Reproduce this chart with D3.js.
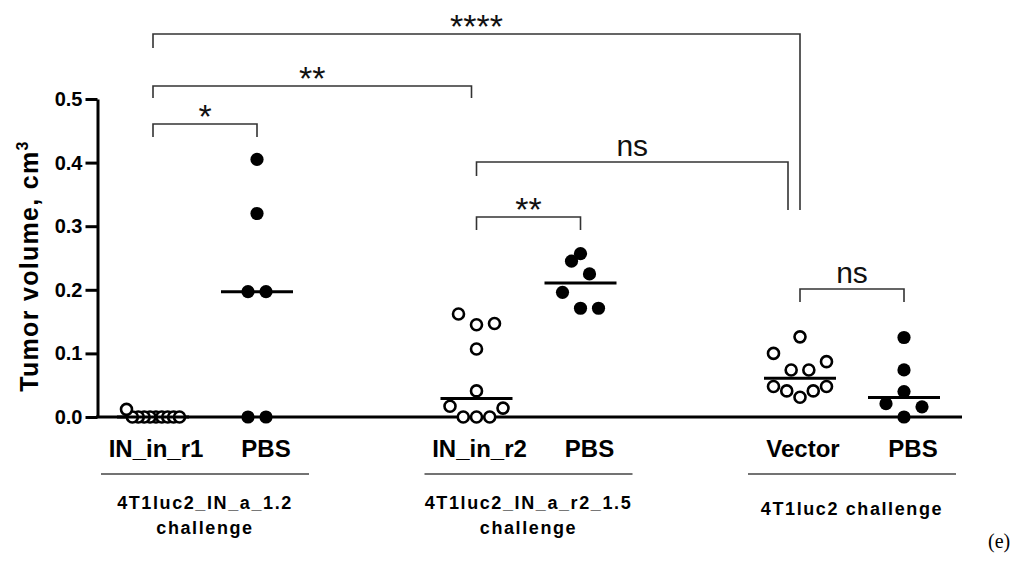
<!DOCTYPE html>
<html>
<head>
<meta charset="utf-8">
<script src="https://cdn.jsdelivr.net/npm/d3@7"></script>
<style>
  body { margin: 0; background: #fff; }
  svg { display: block; font-family: 'Liberation Sans', Arial, sans-serif; }
</style>
</head>
<body>
<div class="chart"></div>
<script>
// group / category names
const groupLabels = [
  ['4T1luc2_IN_a_1.2', 'challenge'],
  ['4T1luc2_IN_a_r2_1.5', 'challenge'],
  ['4T1luc2 challenge'],
];
const categoryLabels = [
  ['IN_in_r1', 'PBS'],
  ['IN_in_r2', 'PBS'],
  ['Vector', 'PBS'],
];

// tumor volumes, cm3
const inR1Values = [0, 0, 0, 0, 0, 0, 0, 0, 0, 0.012];
const pbs1Values = [0.405, 0.32, 0.197, 0.197, 0, 0];
const inR2Values = [0.162, 0.147, 0.145, 0.107, 0.041, 0.017, 0.014, 0, 0, 0];
const pbs2Values = [0.257, 0.245, 0.225, 0.196, 0.171, 0.171];
const vectorValues = [0.126, 0.1, 0.087, 0.074, 0.074, 0.048, 0.048, 0.041, 0.041, 0.031];
const pbs3Values = [0.125, 0.074, 0.04, 0.021, 0.016, 0];

const yTicks = [0, 0.1, 0.2, 0.3, 0.4, 0.5];

// significance comparisons: [group, category] pairs
const comparisons = [
  { a: [0, 0], b: [0, 1], label: '*' },
  { a: [0, 0], b: [1, 0], label: '**' },
  { a: [0, 0], b: [2, 0], label: '****' },
  { a: [1, 0], b: [2, 0], label: 'ns' },
  { a: [1, 0], b: [1, 1], label: '**' },
  { a: [2, 0], b: [2, 1], label: 'ns' },
];

const series = [
  { g: 0, k: 0, values: inR1Values, filled: false },
  { g: 0, k: 1, values: pbs1Values, filled: true },
  { g: 1, k: 0, values: inR2Values, filled: false },
  { g: 1, k: 1, values: pbs2Values, filled: true },
  { g: 2, k: 0, values: vectorValues, filled: false },
  { g: 2, k: 1, values: pbs3Values, filled: true },
];

// bracket layout (pixels): line height, leg lengths, end shift
const bracketLayout = [
  { y: 124, legA: 13, legB: 13, shiftB: 0 },
  { y: 86, legA: 12, legB: 12, shiftB: -5 },
  { y: 34, legA: 14, legB: 176, shiftB: 0 },
  { y: 162, legA: 14, legB: 48, shiftB: -12 },
  { y: 217, legA: 13, legB: 13, shiftB: 0 },
  { y: 289, legA: 13, legB: 13, shiftB: 0 },
];

const width = 1013, height = 568;

const svg = d3
  .select('.chart')
  .append('svg')
  .attr('width', width)
  .attr('height', height);

const y = d3.scaleLinear().domain([0, 0.5]).range([417, 99]);
const groupX = d3.scalePoint().domain([0, 1, 2]).range([205, 852]);
const innerX = d3.scalePoint().domain([0, 1]).range([-52, 52]);
const cx = (g, k) => groupX(g) + innerX(k);

// prism-like column scatter: rows by value, spread sideways
function swarmOffsets(values) {
  const order = values.map((v, i) => i).sort((a, b) => values[a] - values[b]);
  const rows = [];
  let row = null;
  let start = 0;
  order.forEach((i) => {
    const py = y(0) - y(values[i]);
    if (!row || py - start > 17) {
      row = [];
      rows.push(row);
      start = py;
    }
    row.push(i);
  });
  const off = new Array(values.length).fill(0);
  rows.forEach((r) => {
    const n = r.length;
    if (n === 1) return;
    const s = Math.min(18, 53 / (n - 1));
    const slots = d3.range(n).map((k) => (k - (n - 1) / 2) * s);
    slots.sort((a, b) => Math.abs(a) - Math.abs(b) || b - a);
    r.forEach((i, k) => (off[i] = slots[k]));
  });
  return off;
}

// y axis
const yAxis = svg
  .append('g')
  .attr('transform', 'translate(97.5,0)')
  .call(
    d3.axisLeft(y).tickValues(yTicks).tickSize(12).tickSizeOuter(0).tickPadding(3)
      .tickFormat(d3.format('.1f'))
  );
yAxis.select('.domain').attr('stroke', '#000').attr('stroke-width', 3);
yAxis.selectAll('.tick line').attr('stroke', '#000').attr('stroke-width', 3);
yAxis
  .selectAll('.tick text')
  .attr('fill', '#000')
  .style('font-family', "'Liberation Sans', Arial, sans-serif")
  .style('font-size', '20px')
  .style('font-weight', 'bold');

svg
  .append('text')
  .attr('transform', 'translate(38,266) rotate(-90)')
  .attr('text-anchor', 'middle')
  .style('font-size', '25px')
  .style('font-weight', 'bold')
  .style('letter-spacing', '1.3px')
  .text('Tumor volume, cm')
  .append('tspan')
  .attr('dy', -10)
  .style('font-size', '16px')
  .text('3');

// x baseline
svg
  .append('line')
  .attr('x1', 96)
  .attr('x2', 962)
  .attr('y1', y(0))
  .attr('y2', y(0))
  .attr('stroke', '#000')
  .attr('stroke-width', 3);

// points
series.forEach((s) => {
  const off = swarmOffsets(s.values);
  const x0 = cx(s.g, s.k);
  const gDots = svg.append('g');
  gDots
    .selectAll('circle')
    .data(s.values)
    .enter()
    .append('circle')
    .attr('cx', (d, i) => x0 + off[i])
    .attr('cy', (d) => y(d))
    .attr('r', s.filled ? 6.6 : 5.5)
    .attr('fill', s.filled ? '#000' : '#fff')
    .attr('stroke', s.filled ? 'none' : '#000')
    .attr('stroke-width', 2.6);

  const med = d3.median(s.values);
  svg
    .append('line')
    .attr('x1', x0 - 36)
    .attr('x2', x0 + 36)
    .attr('y1', y(med))
    .attr('y2', y(med))
    .attr('stroke', '#000')
    .attr('stroke-width', 3);
});

// category labels
categoryLabels.forEach((pair, g) => {
  pair.forEach((name, k) => {
    svg
      .append('text')
      .attr('x', cx(g, k) + (k === 0 ? 3 : 9))
      .attr('y', 457)
      .attr('text-anchor', 'middle')
      .style('font-size', '24px')
      .style('font-weight', 'bold')
      .text(name);
  });
});

// group underline + labels
groupLabels.forEach((lines, g) => {
  const c = groupX(g);
  svg
    .append('line')
    .attr('x1', c - 104)
    .attr('x2', c + 104)
    .attr('y1', 474)
    .attr('y2', 474)
    .attr('stroke', '#444')
    .attr('stroke-width', 1.5);
  lines.forEach((line, j) => {
    svg
      .append('text')
      .attr('x', c)
      .attr('y', lines.length === 1 ? 515 : 509 + j * 25)
      .attr('text-anchor', 'middle')
      .style('font-size', '18px')
      .style('font-weight', 'bold')
      .style('letter-spacing', '1.6px')
      .text(line);
  });
});

// significance brackets
comparisons.forEach((c, i) => {
  const L = bracketLayout[i];
  const xa = cx(c.a[0], c.a[1]);
  const xb = cx(c.b[0], c.b[1]) + L.shiftB;
  svg
    .append('path')
    .attr('d', `M${xa},${L.y + L.legA}V${L.y}H${xb}V${L.y + L.legB}`)
    .attr('fill', 'none')
    .attr('stroke', '#333')
    .attr('stroke-width', 1.6);
  const isStar = c.label !== 'ns';
  svg
    .append('text')
    .attr('x', (xa + xb) / 2)
    .attr('y', isStar ? L.y + 4 : L.y - 6)
    .attr('text-anchor', 'middle')
    .style('font-size', isStar ? '34px' : '30px')
    .attr('fill', '#111')
    .text(c.label);
});

svg
  .append('text')
  .attr('x', 988)
  .attr('y', 548)
  .style('font-family', "'Liberation Serif', serif")
  .style('font-size', '20px')
  .text('(e)');
</script>
</body>
</html>
